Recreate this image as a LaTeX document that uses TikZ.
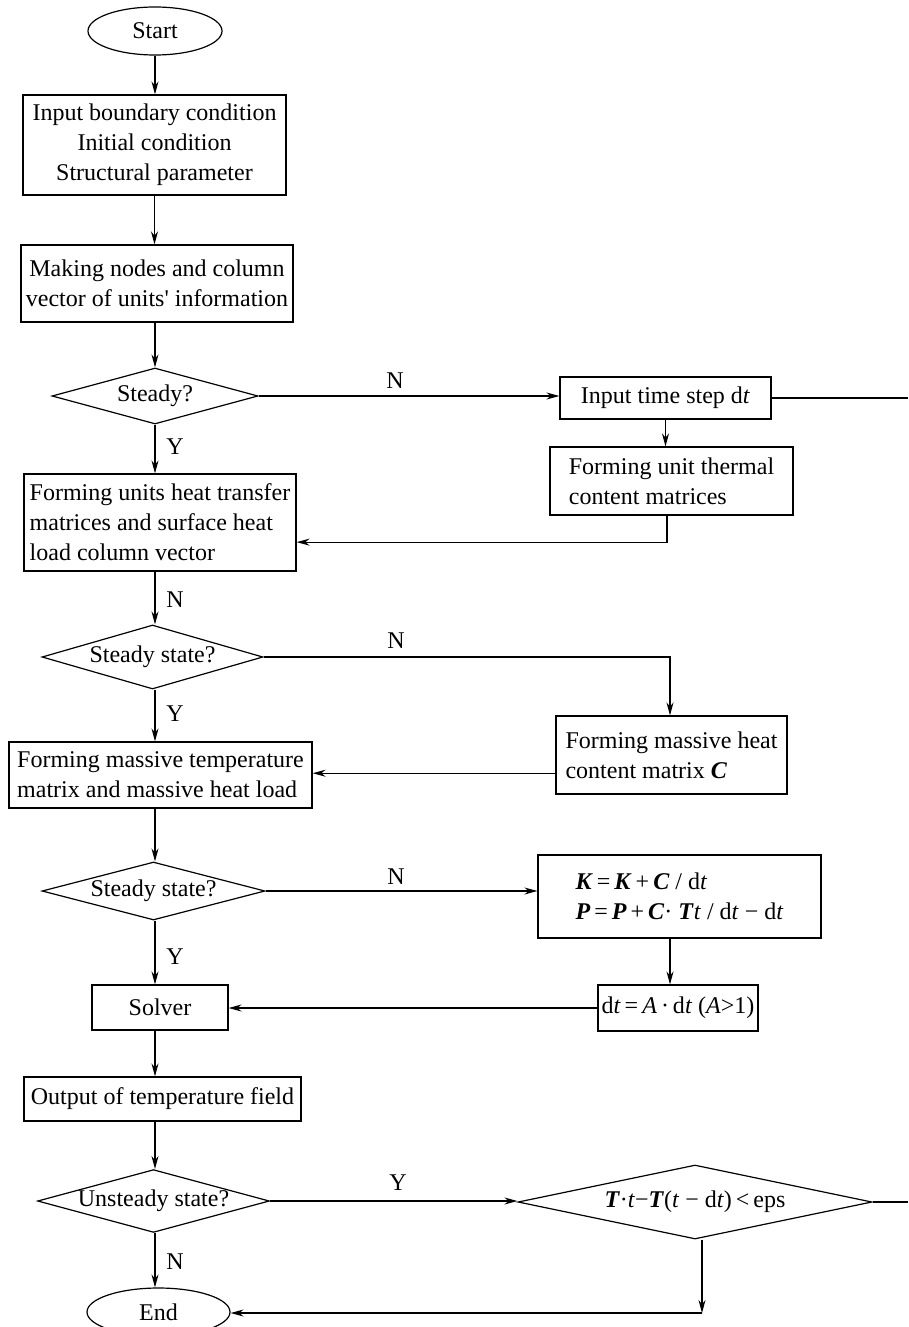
\documentclass[tikz,border=0pt]{standalone}
\usepackage{fontspec}
\setmainfont{Liberation Serif}
\usetikzlibrary{shapes.geometric,arrows.meta,calc}
\newcommand{\bi}[1]{\textbf{\textit{#1}}}
\begin{document}
\begin{tikzpicture}[x=1pt,y=-1pt,
  every node/.style={font=\fontsize{24}{30}\selectfont},
  box/.style={draw,line width=1.2pt,rectangle,inner sep=0pt,align=#1},
  box/.default=center,
  dec/.style={draw,line width=1.2pt,diamond,inner sep=0pt},
  term/.style={draw,line width=1.2pt,ellipse,inner sep=0pt},
  conn/.style={line width=1.2pt},
  arr/.style={line width=1.2pt,-{Stealth[length=13pt,width=7pt]}},
  lbl/.style={inner sep=0pt}]
\useasboundingbox (0,0) rectangle (908,1327);
% left column
\node[term,minimum width=134pt,minimum height=48pt] (start) at (155,31) {Start};
\node[box,minimum width=263pt,minimum height=100pt] (b1) at (154.5,145) {Input boundary condition\\Initial condition\\Structural parameter};
\node[box,minimum width=272pt,minimum height=77pt] (b2) at (157,283.5) {Making nodes and column\\vector of units\textquotesingle{} information};
\node[dec,minimum width=206pt,minimum height=56pt,aspect=3.68] (d1) at (155,396) {Steady?};
\node[box=left,minimum width=272pt,minimum height=97pt] (b3) at (160,522.5) {Forming units heat transfer\\matrices and surface heat\\load column vector};
\node[dec,minimum width=221pt,minimum height=64pt,aspect=3.45] (d2) at (152.5,657) {Steady state?};
\node[box=left,minimum width=303pt,minimum height=66pt] (b4) at (160.5,775) {Forming massive temperature\\matrix and massive heat load};
\node[dec,minimum width=223pt,minimum height=58pt,aspect=3.84] (d3) at (153.5,891) {Steady state?};
\node[box,minimum width=136pt,minimum height=45pt] (solver) at (160,1007.5) {Solver};
\node[box,minimum width=277pt,minimum height=44pt] (out) at (162.5,1099) {Output of temperature field};
\node[dec,minimum width=229pt,minimum height=62pt,aspect=3.69] (d4) at (153.5,1201) {Unsteady state?};
\node[term,minimum width=143pt,minimum height=48pt] (end) at (158.5,1312) {End};
% right column
\node[box,minimum width=211pt,minimum height=42pt] (ts) at (665.5,398) {Input time step d\textit{t}};
\node[box=left,minimum width=243pt,minimum height=68pt] (ut) at (671.5,481) {Forming unit thermal\\content matrices};
\node[box=left,minimum width=231pt,minimum height=78pt] (mc) at (671.5,755) {Forming massive heat\\content matrix \bi{C}};
\node[box=left,minimum width=283pt,minimum height=83pt] (kb) at (679.5,896.5) {\bi{K}\,=\,\bi{K}\,+\,\bi{C} / d\textit{t}\\\bi{P}\,=\,\bi{P}\,+\,\bi{C}·\ \bi{T}\textit{t} / d\textit{t} − d\textit{t}};
\node[box,minimum width=160pt,minimum height=46pt] (dtb) at (678,1008) {d\textit{t}\,=\,\textit{A}\,·\,d\textit{t} (\textit{A}>1)};
\node[dec,minimum width=354pt,minimum height=74pt,aspect=4.78] (eps) at (695,1202) {\bi{T}·\textit{t}−\bi{T}(\textit{t} − d\textit{t})\,<\,eps};
% helper coordinates
\coordinate (r1) at (908,398);
\coordinate (r2) at (908,1202);
\coordinate (c1) at (702,1313);
\coordinate (p3) at ($(b3.south east)!0.3!(b3.north east)$);
\coordinate (p4) at ($(mc.south west)!0.27!(mc.north west)$);
% main flow
\draw[arr] (start.south) -- (start.south |- b1.north);
\draw[arr] (b1.south) -- (b1.south |- b2.north);
\draw[arr] (d1.north |- b2.south) -- (d1.north);
\draw[arr] (d1.south) -- (d1.south |- b3.north);
\draw[arr] (d1.south |- b3.south) -- (d1.south |- d2.north);
\draw[arr] (d1.south |- d2.south) -- (d1.south |- b4.north);
\draw[arr] (d1.south |- b4.south) -- (d1.south |- d3.north);
\draw[arr] (d1.south |- d3.south) -- (d1.south |- solver.north);
\draw[arr] (d1.south |- solver.south) -- (d1.south |- out.north);
\draw[arr] (d1.south |- out.south) -- (d1.south |- d4.north);
\draw[arr] (d1.south |- d4.south) -- (d1.south |- end.north);
% branches
\draw[arr] (d1.east) -- (d1.east -| ts.west);
\draw[conn] (ts.east) -- (ts.east -| r1);
\draw[arr] (ts.south) -- (ts.south |- ut.north);
\draw[arr] (ut.south -| 667,0) |- (p3);
\draw[arr] (d2.east) -| (670,0 |- mc.north);
\draw[arr] (p4) -- (p4 -| b4.east);
\draw[arr] (d3.east) -- (d3.east -| kb.west);
\draw[arr] (670,0 |- kb.south) -- (670,0 |- dtb.north);
\draw[arr] (dtb.west) -- (dtb.west -| solver.east);
\draw[arr] (d4.east) -- (d4.east -| eps.west);
\draw[conn] (eps.east) -- (r2);
\draw[arr] (eps.south -| c1) -- (c1);
\draw[arr] (c1) -- (c1 -| end.east);
% labels
\node[lbl] (l1) at (395,381) {N};
\node[lbl] (l2) at (175,447) {Y};
\node[lbl] (l3) at (175,600) {N};
\node[lbl] (l4) at (396,641) {N};
\node[lbl] (l5) at (175,714) {Y};
\node[lbl] (l6) at (396,877) {N};
\node[lbl] (l7) at (175,957) {Y};
\node[lbl] (l8) at (398,1183) {Y};
\node[lbl] (l9) at (175,1262) {N};
\end{tikzpicture}
\end{document}
